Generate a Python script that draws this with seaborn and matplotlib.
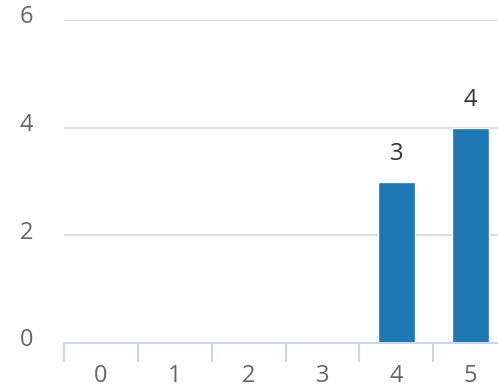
import matplotlib
matplotlib.use("Agg")
import matplotlib.pyplot as plt
import matplotlib.transforms as mtransforms
import seaborn as sns
import pandas as pd
import numpy as np

# data
categories = ["0", "1", "2", "3", "4", "5"]
values = [0, 0, 0, 0, 3, 4]
y_ticks = [0, 2, 4, 6]

df = pd.DataFrame({"cat": categories, "val": values})

sns.set_style("white")
plt.rcParams['font.family'] = ['Open Sans', 'DejaVu Sans']

fig = plt.figure(figsize=(4.98, 3.9), dpi=100)
# plot area runs a bit past the right edge, like the original
ax = fig.add_axes([64/498, 47/390, 443/498, 323/390])

sns.barplot(data=df, x="cat", y="val", color="#1f77b4", saturation=1, width=0.5, ax=ax)

ax.set_ylim(0, 6)
ax.set_xlim(-0.5, 5.5)
ax.set_yticks(y_ticks)
ax.set_yticklabels([str(t) for t in y_ticks])
ax.grid(axis="y", color="#d9d9d9", linewidth=1.3)
ax.set_axisbelow(True)
ax.set_xlabel("")
ax.set_ylabel("")

for s in ["top", "right", "left"]:
    ax.spines[s].set_visible(False)
ax.spines["bottom"].set_color("#ccd6eb")
ax.spines["bottom"].set_linewidth(1.5)

# category boundary ticks
ax.set_xticks(np.arange(-0.5, 5.6, 1), minor=True)
ax.tick_params(axis="x", which="minor", bottom=True, length=14, width=1.5, color="#ccd6eb")
ax.tick_params(axis="x", which="major", bottom=True, length=0, pad=15, labelsize=17, labelcolor="#666666")
ax.tick_params(axis="y", length=0, pad=22, labelsize=17, labelcolor="#666666")
shift = mtransforms.ScaledTranslation(0, 4/72, fig.dpi_scale_trans)
for lbl in ax.get_yticklabels():
    lbl.set_transform(lbl.get_transform() + shift)

# data labels for non-zero bars
labels = [str(v) if v else "" for v in values]
ax.bar_label(ax.containers[0], labels=labels, padding=11, fontsize=17, color="#333333")

fig.savefig("out.png", dpi=100)
